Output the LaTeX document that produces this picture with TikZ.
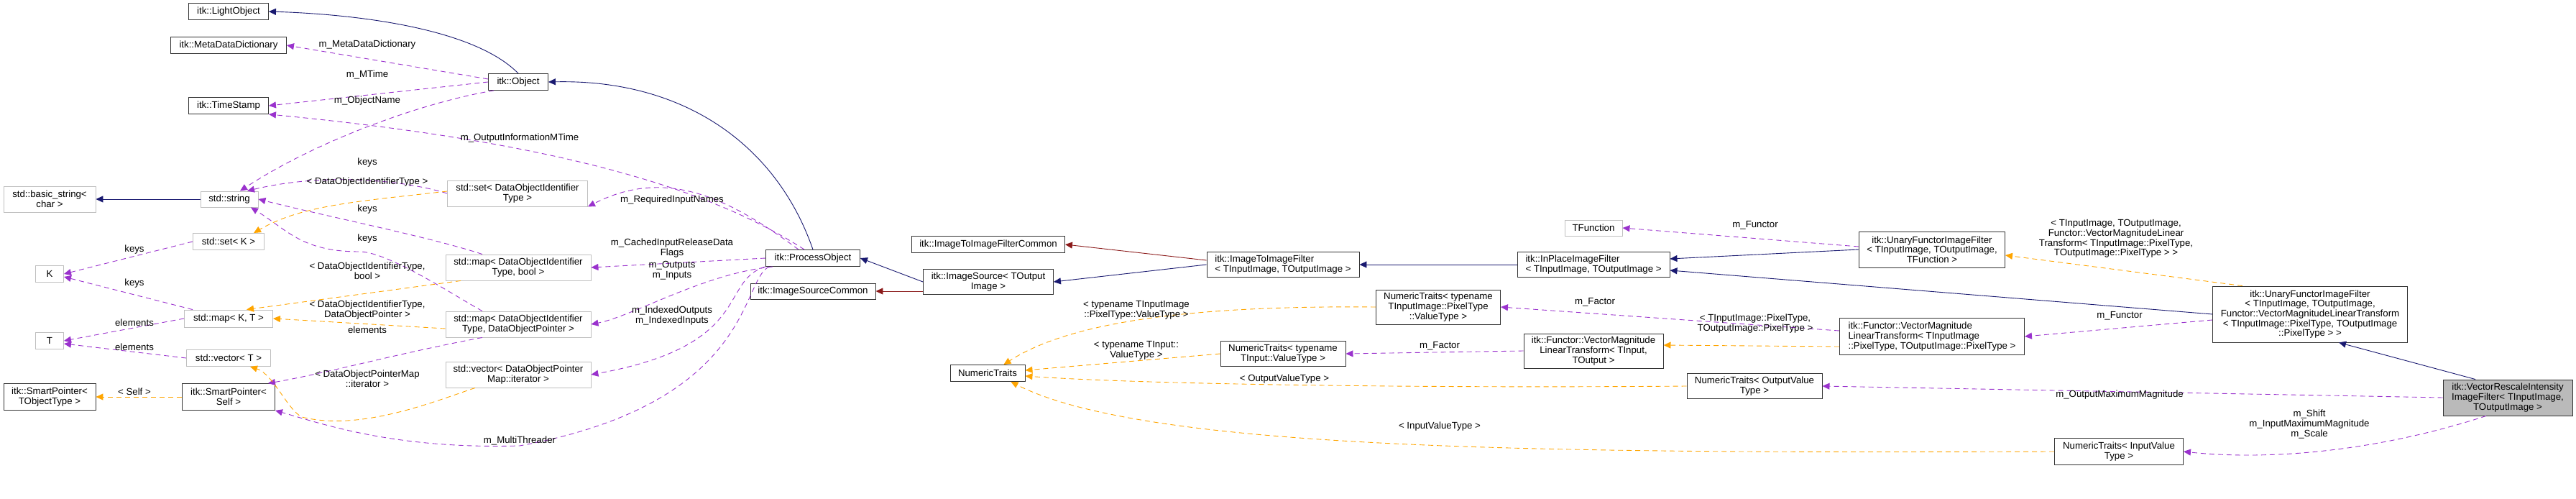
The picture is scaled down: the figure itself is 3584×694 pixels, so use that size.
\documentclass[tikz,border=0pt]{standalone}
\usepackage{fontspec}
\setmainfont{Liberation Sans}
\usetikzlibrary{arrows.meta}
\definecolor{navy}{HTML}{191970}
\definecolor{dred}{HTML}{8B1A1A}
\definecolor{purp}{HTML}{9A32CD}
\definecolor{orng}{HTML}{FFA500}
\newcommand{\fs}{\fontsize{13.3}{13.7}\selectfont}
\tikzset{
 cls/.style={draw=black!80, fill=white, line width=0.9pt, inner sep=1pt, font=\fs, align=center},
 gcls/.style={cls, draw=black!25},
 tip/.style={-{Triangle[length=10bp,width=9bp]}},
 inh/.style={draw=navy, line width=0.9pt, tip},
 priv/.style={draw=dred, line width=0.9pt, tip},
 use/.style={draw=purp, line width=0.9pt, dash pattern=on 7bp off 5bp, tip},
 tmpl/.style={draw=orng, line width=0.9pt, dash pattern=on 7bp off 5bp, tip},
 lbl/.style={font=\fs, align=center, inner sep=0},
}
\begin{document}
\begin{tikzpicture}[x=1bp,y=-1bp]
\useasboundingbox (0,0) rectangle (3584,694);
% nodes
\node[cls, minimum width=111bp, minimum height=23bp] (light) at (318,16) {itk::LightObject};
\node[cls, minimum width=161bp, minimum height=23bp] (meta) at (318,63) {itk::MetaDataDictionary};
\node[cls, minimum width=111bp, minimum height=23bp] (ts) at (318,147) {itk::TimeStamp};
\node[gcls, minimum width=128bp, minimum height=36bp] (bstr) at (69,277) {std::basic\_string<\\char >};
\node[gcls, minimum width=80bp, minimum height=22bp] (str) at (319,277) {std::string};
\node[gcls, minimum width=99bp, minimum height=23bp] (setK) at (318,336) {std::set< K >};
\node[gcls, minimum width=39bp, minimum height=23bp] (K) at (69,381) {K};
\node[gcls, minimum width=123bp, minimum height=24bp] (mapKT) at (318,443) {std::map< K, T >};
\node[gcls, minimum width=39bp, minimum height=23bp] (T) at (69,474) {T};
\node[gcls, minimum width=117bp, minimum height=23bp] (vecT) at (318,498) {std::vector< T >};
\node[cls, minimum width=128bp, minimum height=37bp] (spT) at (69,552) {itk::SmartPointer<\\TObjectType >};
\node[cls, minimum width=129bp, minimum height=37bp] (spS) at (318,552) {itk::SmartPointer<\\Self >};
\node[cls, minimum width=83bp, minimum height=23bp] (obj) at (721,114) {itk::Object};
\node[gcls, minimum width=195bp, minimum height=36bp] (setD) at (720,269) {std::set< DataObjectIdentifier\\Type >};
\node[gcls, minimum width=202bp, minimum height=36bp] (mapB) at (721,372) {std::map< DataObjectIdentifier\\Type, bool >};
\node[gcls, minimum width=202bp, minimum height=36bp] (mapD) at (721,451) {std::map< DataObjectIdentifier\\Type, DataObjectPointer >};
\node[gcls, minimum width=202bp, minimum height=36bp] (vecD) at (721,521) {std::vector< DataObjectPointer\\Map::iterator >};
\node[cls, minimum width=131bp, minimum height=23bp] (po) at (1131,359) {itk::ProcessObject};
\node[cls, minimum width=174bp, minimum height=22bp] (isc) at (1131,405) {itk::ImageSourceCommon};
\node[cls, minimum width=213bp, minimum height=23bp] (i2ic) at (1375,340) {itk::ImageToImageFilterCommon};
\node[cls, minimum width=181bp, minimum height=35bp] (isrc) at (1375,392) {itk::ImageSource< TOutput\\Image >};
\node[cls, minimum width=212bp, minimum height=35bp, align=left] (i2i) at (1785,368) {itk::ImageToImageFilter\\< TInputImage, TOutputImage >};
\node[cls, minimum width=104bp, minimum height=23bp] (nt) at (1374,519) {NumericTraits};
\node[cls, minimum width=174bp, minimum height=35bp] (ntTI) at (1785,492) {NumericTraits< typename\\TInput::ValueType >};
\node[gcls, minimum width=80bp, minimum height=22bp] (tfun) at (2217,317) {TFunction};
\node[cls, minimum width=212bp, minimum height=35bp, align=left] (inpl) at (2217,368) {itk::InPlaceImageFilter\\< TInputImage, TOutputImage >};
\node[cls, minimum width=173bp, minimum height=48bp] (ntTII) at (2001,427) {NumericTraits< typename\\TInputImage::PixelType\\::ValueType >};
\node[cls, minimum width=194bp, minimum height=48bp] (vmltA) at (2217,488) {itk::Functor::VectorMagnitude\\LinearTransform< TInput,\\TOutput >};
\node[cls, minimum width=188bp, minimum height=35bp] (ntOut) at (2441,537) {NumericTraits< OutputValue\\Type >};
\node[cls, minimum width=203bp, minimum height=50bp] (ufA) at (2688,347) {itk::UnaryFunctorImageFilter\\< TInputImage, TOutputImage,\\TFunction >};
\node[cls, minimum width=257bp, minimum height=51bp, align=left] (vmltB) at (2688,468) {itk::Functor::VectorMagnitude\\LinearTransform< TInputImage\\::PixelType, TOutputImage::PixelType >};
\node[cls, minimum width=179bp, minimum height=37bp] (ntIn) at (2948,628) {NumericTraits< InputValue\\Type >};
\node[cls, minimum width=271bp, minimum height=78bp] (ufB) at (3214,437) {itk::UnaryFunctorImageFilter\\< TInputImage, TOutputImage,\\Functor::VectorMagnitudeLinearTransform\\< TInputImage::PixelType, TOutputImage\\::PixelType > >};
\node[cls, fill=black!27, minimum width=180bp, minimum height=50bp] (vri) at (3489,553) {itk::VectorRescaleIntensity\\ImageFilter< TInputImage,\\TOutputImage >};
% inheritance
\draw[inh] (obj.north) .. controls (660,40) and (500,20) .. (light.east);
\draw[inh] (po.north) .. controls (1080,200) and (950,110) .. (obj.east);
\draw[inh] (str) -- (bstr);
\draw[inh] (isrc.west) -- (po.east);
\draw[inh] (i2i.west) -- (isrc.east);
\draw[inh] (inpl.west) -- (i2i.east);
\draw[inh] (ufA.west) -- ([yshift=8bp]inpl.east);
\draw[inh] (ufB.west) -- ([yshift=-8bp]inpl.east);
\draw[inh] ([xshift=-45bp]vri.north) -- ([xshift=40bp]ufB.south);
\draw[priv] (isrc.west |- isc.east) -- (isc.east);
\draw[priv] ([yshift=6bp]i2i.west) -- (i2ic.east);
% usage
\draw[use] ([yshift=4bp]obj.west) -- (meta.east);
\draw[use] (obj.west) -- (ts.east);
\draw[use] ([xshift=8bp]obj.south west) .. controls (600,140) and (450,190) .. ([xshift=15bp]str.north);
\draw[use] ([xshift=-12bp]po.north) .. controls (1000,270) and (800,200) .. (ts.south east);
\draw[use] (setD.west) .. controls (560,250) and (450,240) .. ([xshift=25bp]str.north);
\draw[use] ([xshift=-50bp]mapB.north) .. controls (600,330) and (450,300) .. (str.east);
\draw[use] ([xshift=-50bp]mapD.north) .. controls (630,410) and (540,350) .. (500,350) .. controls (420,350) and (400,320) .. ([xshift=30bp]str.south);
\draw[use] (setK.west) -- (K.east);
\draw[use] ([xshift=-50bp]mapKT.north) -- ([yshift=-4bp]K.east);
\draw[use] (mapKT.west) -- (T.east);
\draw[use] (vecT.west) -- ([yshift=-4bp]T.east);
\draw[use] ([xshift=-50bp]mapD.south) .. controls (560,490) and (450,520) .. ([xshift=-10bp]spS.north east);
\draw[use] ([xshift=-20bp]po.north) .. controls (1020,280) and (930,230) .. (setD.south east);
\draw[use] (po.west) -- (mapB.east);
\draw[use] ([xshift=10bp]po.south west) .. controls (980,380) and (880,440) .. (mapD.east);
\draw[use] (po.south west) .. controls (1000,390) and (1050,480) .. (vecD.east);
\draw[use] ([xshift=5bp]po.south west) .. controls (1030,390) and (1050,560) .. (723,620) .. controls (550,625) and (450,590) .. (spS.south east);
\draw[use] ([yshift=4bp]ufA.west) -- (tfun.east);
\draw[use] (vmltA.west) -- (ntTI.east);
\draw[use] ([yshift=8bp]vmltB.west) -- (ntTII.east);
\draw[use] ([yshift=-8bp]ufB.west) -- (vmltB.east);
\draw[use] (vri.west) -- (ntOut.east);
\draw[use] ([xshift=-30bp]vri.south) .. controls (3300,630) and (3150,640) .. (ntIn.east);
% templates
\draw[tmpl] ([yshift=3bp]setD.west) .. controls (500,280) and (420,285) .. ([xshift=35bp]setK.north);
\draw[tmpl] ([xshift=-80bp]mapB.south) -- ([xshift=25bp]mapKT.north);
\draw[tmpl] ([yshift=-6bp]mapD.west) -- (mapKT.east);
\draw[tmpl] ([xshift=-60bp]vecD.south) .. controls (600,560) and (500,600) .. (420,580) .. controls (400,570) and (380,520) .. ([xshift=30bp]vecT.south);
\draw[tmpl] (spS.west) -- (spT.east);
\draw[tmpl] (ntTII.west) .. controls (1700,425) and (1500,440) .. ([xshift=-30bp]nt.north east);
\draw[tmpl] (ntTI.west) -- ([yshift=4bp]nt.east);
\draw[tmpl] (ntOut.west) .. controls (2000,540) and (1600,535) .. ([yshift=-4bp]nt.east);
\draw[tmpl] (ntIn.west) .. controls (2200,630) and (1600,630) .. ([xshift=-20bp]nt.south east);
\draw[tmpl] ([yshift=-14bp]vmltB.west) -- ([yshift=8bp]vmltA.east);
\draw[tmpl] ([xshift=-230bp]ufB.north east) -- ([yshift=-8bp]ufA.east);
% labels
\node[lbl] (l1) at (511,62) {m\_MetaDataDictionary};
\node[lbl] (l2) at (511,104) {m\_MTime};
\node[lbl] (l3) at (511,140) {m\_ObjectName};
\node[lbl] (l4) at (723,192) {m\_OutputInformationMTime};
\node[lbl] (l5) at (511,226) {keys};
\node[lbl] (l6) at (511,253) {< DataObjectIdentifierType >};
\node[lbl] (l7) at (511,291) {keys};
\node[lbl] (l8) at (511,332) {keys};
\node[lbl] (l9) at (511,377) {< DataObjectIdentifierType,\\bool >};
\node[lbl] (l10) at (511,431) {< DataObjectIdentifierType,\\DataObjectPointer >};
\node[lbl] (l11) at (511,459) {elements};
\node[lbl] (l12) at (511,527) {< DataObjectPointerMap\\::iterator >};
\node[lbl] (l13) at (187,347) {keys};
\node[lbl] (l14) at (187,394) {keys};
\node[lbl] (l15) at (187,449) {elements};
\node[lbl] (l16) at (187,483) {elements};
\node[lbl] (l17) at (187,545) {< Self >};
\node[lbl] (l18) at (935,278) {m\_RequiredInputNames};
\node[lbl] (l19) at (935,345) {m\_CachedInputReleaseData\\Flags};
\node[lbl] (l20) at (935,376) {m\_Outputs\\m\_Inputs};
\node[lbl] (l21) at (935,439) {m\_IndexedOutputs\\m\_IndexedInputs};
\node[lbl] (l22) at (723,613) {m\_MultiThreader};
\node[lbl] (l23) at (1581,431) {< typename TInputImage\\::PixelType::ValueType >};
\node[lbl] (l24) at (1581,487) {< typename TInput::\\ValueType >};
\node[lbl] (l25) at (1787,527) {< OutputValueType >};
\node[lbl] (l26) at (2003,593) {< InputValueType >};
\node[lbl] (l27) at (2442,313) {m\_Functor};
\node[lbl] (l28) at (2219,420) {m\_Factor};
\node[lbl] (l29) at (2003,481) {m\_Factor};
\node[lbl] (l30) at (2442,450) {< TInputImage::PixelType,\\TOutputImage::PixelType >};
\node[lbl] (l31) at (2944,332) {< TInputImage, TOutputImage,\\Functor::VectorMagnitudeLinear\\Transform< TInputImage::PixelType,\\TOutputImage::PixelType > >};
\node[lbl] (l32) at (2949,439) {m\_Functor};
\node[lbl] (l33) at (2949,549) {m\_OutputMaximumMagnitude};
\node[lbl] (l34) at (3213,590) {m\_Shift\\m\_InputMaximumMagnitude\\m\_Scale};
\end{tikzpicture}
\end{document}
